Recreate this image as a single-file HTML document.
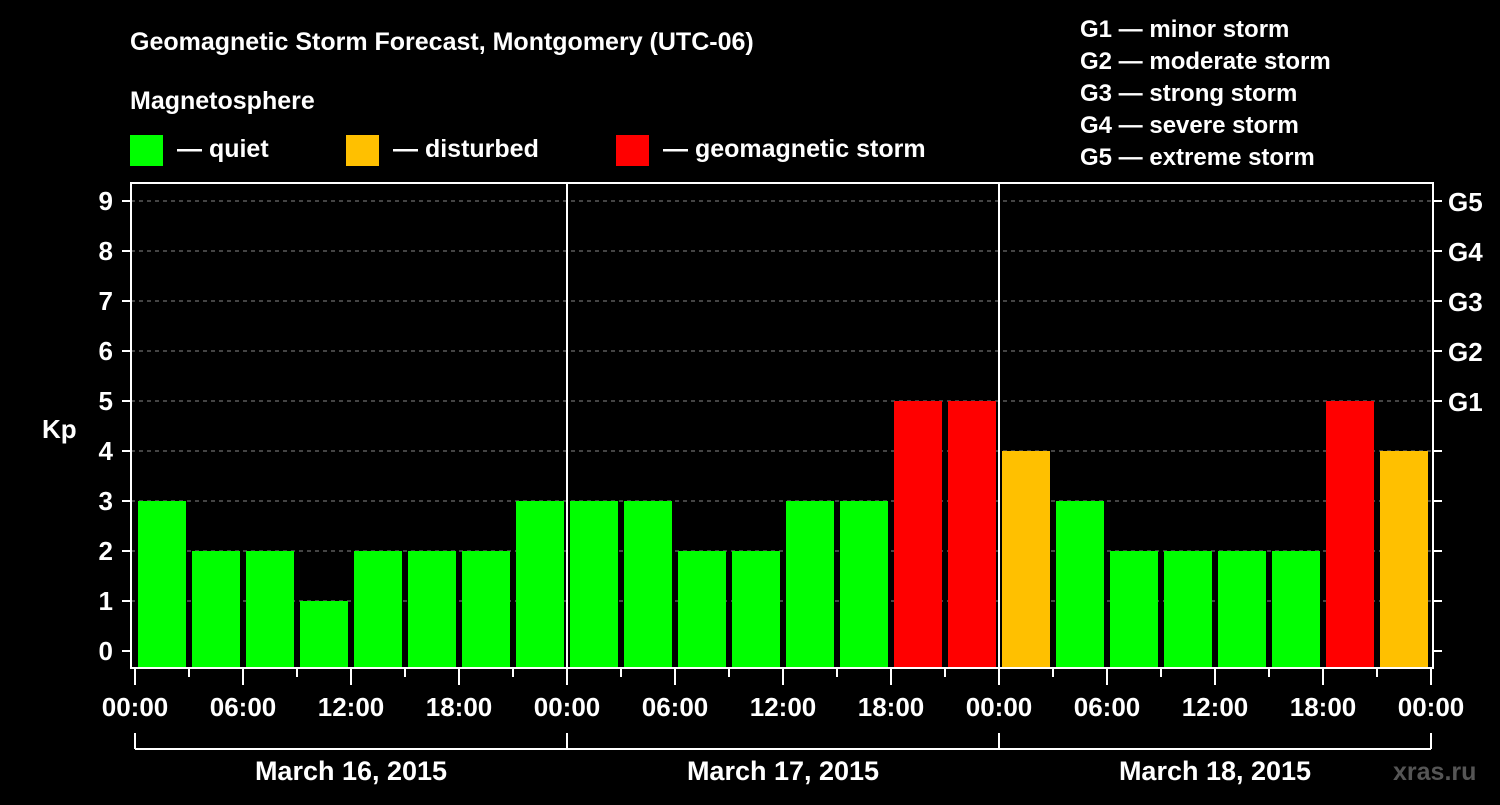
<!DOCTYPE html>
<html><head><meta charset="utf-8"><style>
body{margin:0;background:#000;width:1500px;height:800px;overflow:hidden}
svg text{font-family:"Liberation Sans",sans-serif;font-weight:bold;fill:#fff}
</style></head><body>
<svg id="c" width="1500" height="800">
<text x="130" y="50" font-size="25">Geomagnetic Storm Forecast, Montgomery (UTC-06)</text>
<text x="130" y="109" font-size="25">Magnetosphere</text>
<g><rect x="130" y="135" width="33" height="31" fill="#00ff00"/><text x="177" y="157" font-size="25">— quiet</text></g>
<g><rect x="346" y="135" width="33" height="31" fill="#ffc000"/><text x="393" y="157" font-size="25">— disturbed</text></g>
<g><rect x="616" y="135" width="33" height="31" fill="#ff0000"/><text x="663" y="157" font-size="25">— geomagnetic storm</text></g>
<g font-size="24">
<text x="1080" y="37">G1 — minor storm</text>
<text x="1080" y="69">G2 — moderate storm</text>
<text x="1080" y="101">G3 — strong storm</text>
<text x="1080" y="133">G4 — severe storm</text>
<text x="1080" y="165">G5 — extreme storm</text>
</g>
<text x="42" y="438" font-size="26">Kp</text>
<text x="1393" y="780" font-size="25" fill="#555" style="fill:#555">xras.ru</text>
<g id="g"></g>
</svg>
<script>
const kpValues=[3,2,2,1,2,2,2,3, 3,3,2,2,3,3,5,5, 4,3,2,2,2,2,5,4];
const dayLabels=["March 16, 2015","March 17, 2015","March 18, 2015"];
const hourLabels=["00:00","06:00","12:00","18:00"];
const yTicks=[0,1,2,3,4,5,6,7,8,9];
const gLabels=["G1","G2","G3","G4","G5"];
const NS="http://www.w3.org/2000/svg";
const g=document.getElementById('g');
const L=135,R=1431,T=183,B=668;
const slot=(R-L)/kpValues.length;
const y=v=>651-50*v;
const x=i=>L+slot*i;
function mk(t,a){const e=document.createElementNS(NS,t);for(const k in a)e.setAttribute(k,a[k]);g.appendChild(e);return e;}
yTicks.forEach(v=>{
 if(v>0){const l=mk('line',{x1:131,x2:1433,y1:y(v),y2:y(v),stroke:'#888','stroke-dasharray':'4,4','stroke-width':1});
 
 }
 const t1=mk('line',{x1:122,x2:131,y1:y(v),y2:y(v),stroke:'#fff','stroke-width':2});
 
 
 const t2=mk('line',{x1:1433,x2:1442,y1:y(v),y2:y(v),stroke:'#fff','stroke-width':2});
 
 
 const tx=mk('text',{x:113,y:y(v)+9,'font-size':26,'text-anchor':'end'});tx.textContent=v;
 
 
});
gLabels.forEach((s,i)=>{const tx=mk('text',{x:1448,y:y(5+i)+10,'font-size':26});tx.textContent=s;
 
 });
kpValues.forEach((v,i)=>{
 const c=v>=5?'#ff0000':(v>=4?'#ffc000':'#00ff00');
 const r=mk('rect',{x:x(i)+3,y:y(v),width:slot-6,height:667-y(v),fill:c});
 
 
});
const fr=mk('rect',{x:131,y:T,width:1302,height:B-T,fill:'none',stroke:'#fff','stroke-width':2});


const dayW=(R-L)/dayLabels.length;
for(let d=1;d<dayLabels.length;d++){const l=mk('line',{x1:L+dayW*d,x2:L+dayW*d,y1:T,y2:B,stroke:'#fff','stroke-width':2});
 
 }
for(let k=0;k<=kpValues.length;k++){
 const major=k%2==0;
 const t=mk('line',{x1:x(k),x2:x(k),y1:B,y2:major?685:677,stroke:'#fff','stroke-width':2});
 
 
 if(major){const tx=mk('text',{x:x(k),y:716,'font-size':26,'text-anchor':'middle'});tx.textContent=hourLabels[(k/2)%4];
 
 }
}
const bl=mk('line',{x1:L,x2:R,y1:749,y2:749,stroke:'#fff','stroke-width':2});


for(let d=0;d<=dayLabels.length;d++){const l=mk('line',{x1:L+dayW*d,x2:L+dayW*d,y1:733,y2:749,stroke:'#fff','stroke-width':2});
 
 }
dayLabels.forEach((s,d)=>{const tx=mk('text',{x:L+dayW*(d+0.5),y:780,'font-size':27,'text-anchor':'middle'});tx.textContent=s;
 
 });
</script>
</body></html>
